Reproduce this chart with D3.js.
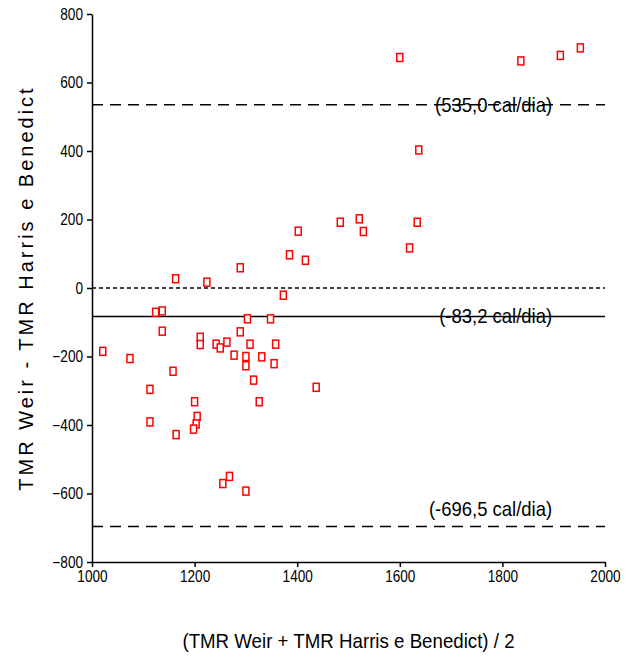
<!DOCTYPE html>
<html>
<head>
<meta charset="utf-8">
<script src="https://cdn.jsdelivr.net/npm/d3@7.9.0/dist/d3.min.js"></script>
<style>
  body { margin: 0; background: #fff; }
  svg { display: block; }
  text { font-family: "Liberation Sans", Arial, sans-serif; fill: #000; }
  .axis text { font-size: 16px; }
  .axis path, .axis line { stroke: #000; stroke-width: 1.5; }
</style>
</head>
<body>
<div id="chart"></div>
<script>
// mean of the two methods (x) and difference Weir - Harris-Benedict (y)
const meanTMR = [
  1600, 1637, 1836, 1913, 1952,
  1163, 1224, 1289, 1385, 1402, 1416, 1484, 1521, 1529, 1634, 1619,
  1124, 1137, 1373, 1303, 1348,
  1137, 1211, 1211, 1289, 1242, 1250, 1263, 1308, 1358, 1021,
  1074, 1277, 1300, 1331, 1300, 1355, 1158, 1315, 1113, 1437,
  1200, 1326, 1205, 1203, 1198, 1113, 1164, 1268, 1255, 1300
];
const diffTMR = [
  673, 403, 663, 679, 701,
  27, 17, 59, 97, 166, 81, 192, 202, 165, 192, 117,
  -71, -67, -21, -90, -90,
  -126, -144, -165, -128, -164, -175, -158, -164, -164, -185,
  -206, -196, -200, -201, -227, -221, -243, -269, -296, -290,
  -332, -332, -375, -397, -412, -391, -428, -550, -571, -593
];
const xTicks = [1000, 1200, 1400, 1600, 1800, 2000];
const yTicks = [-800, -600, -400, -200, 0, 200, 400, 600, 800];

// reference lines: upper limit, bias, lower limit
const refValues = [535.0, -83.2, -696.5];
const refLabels = ['(535,0 cal/dia)', '(-83,2 cal/dia)', '(-696,5 cal/dia)'];
const refDash = ['11,7', null, '11,7'];

const width = 633;
const height = 657;
const margin = { top: 14, right: 28, bottom: 95, left: 92 };

// squeeze text horizontally, the original uses a narrow font
function narrow(sel, k) {
  sel.each(function () {
    const len = this.getComputedTextLength();
    d3.select(this)
      .attr('textLength', len * k)
      .attr('lengthAdjust', 'spacingAndGlyphs');
  });
}

const svg = d3.select('#chart')
  .append('svg')
  .attr('width', width)
  .attr('height', height);

const xScale = d3.scaleLinear()
  .domain([1000, 2000])
  .range([margin.left, width - margin.right]);

const yScale = d3.scaleLinear()
  .domain([-800, 800])
  .range([height - margin.bottom, margin.top]);

// zero line (dotted)
svg.append('line')
  .attr('x1', xScale(1000))
  .attr('x2', xScale(2000))
  .attr('y1', yScale(0))
  .attr('y2', yScale(0))
  .attr('stroke', '#000')
  .attr('stroke-width', 1.5)
  .attr('stroke-dasharray', '4,3');

// limits and bias lines
svg.append('g')
  .selectAll('line')
  .data(refValues)
  .join('line')
  .attr('x1', xScale(1000))
  .attr('x2', xScale(2000))
  .attr('y1', (d) => yScale(d))
  .attr('y2', (d) => yScale(d))
  .attr('stroke', '#000')
  .attr('stroke-width', 1.5)
  .attr('stroke-dasharray', (d, i) => refDash[i]);

svg.append('g')
  .selectAll('text')
  .data(refValues)
  .join('text')
  .attr('x', xScale(1897))
  .attr('y', (d, i) => yScale(d) + (i === 2 ? -11 : 7))
  .attr('text-anchor', 'end')
  .style('font-size', '21px')
  .text((d, i) => refLabels[i])
  .call(narrow, 0.88);

// axes
svg.append('g')
  .attr('class', 'axis')
  .attr('transform', `translate(0, ${yScale(-800)})`)
  .call(d3.axisBottom(xScale).tickValues(xTicks).tickFormat(d3.format('d'))
    .tickSize(5).tickSizeOuter(0).tickPadding(4))
  .selectAll('text')
  .call(narrow, 0.85);

svg.append('g')
  .attr('class', 'axis')
  .attr('transform', `translate(${xScale(1000)}, 0)`)
  .call(d3.axisLeft(yScale).tickValues(yTicks).tickFormat(d3.format('d'))
    .tickSize(5).tickSizeOuter(0).tickPadding(4))
  .selectAll('text')
  .call(narrow, 0.85);

// points
svg.append('g')
  .selectAll('rect')
  .data(meanTMR)
  .join('rect')
  .attr('x', (d) => xScale(d) - 3)
  .attr('y', (d, i) => yScale(diffTMR[i]) - 4)
  .attr('width', 6)
  .attr('height', 8)
  .attr('fill', '#fff')
  .attr('stroke', '#ff0000')
  .attr('stroke-width', 1.5);

// axis titles
svg.append('text')
  .attr('x', (xScale(1000) + xScale(2000)) / 2)
  .attr('y', 648)
  .attr('text-anchor', 'middle')
  .style('font-size', '21px')
  .text('(TMR Weir + TMR Harris e Benedict) / 2')
  .call(narrow, 0.89);

svg.append('text')
  .attr('transform', `translate(33, ${(yScale(800) + yScale(-800)) / 2}) rotate(-90)`)
  .attr('text-anchor', 'middle')
  .style('font-size', '20px')
  .style('letter-spacing', '3px')
  .text('TMR Weir - TMR Harris e Benedict');
</script>
</body>
</html>
